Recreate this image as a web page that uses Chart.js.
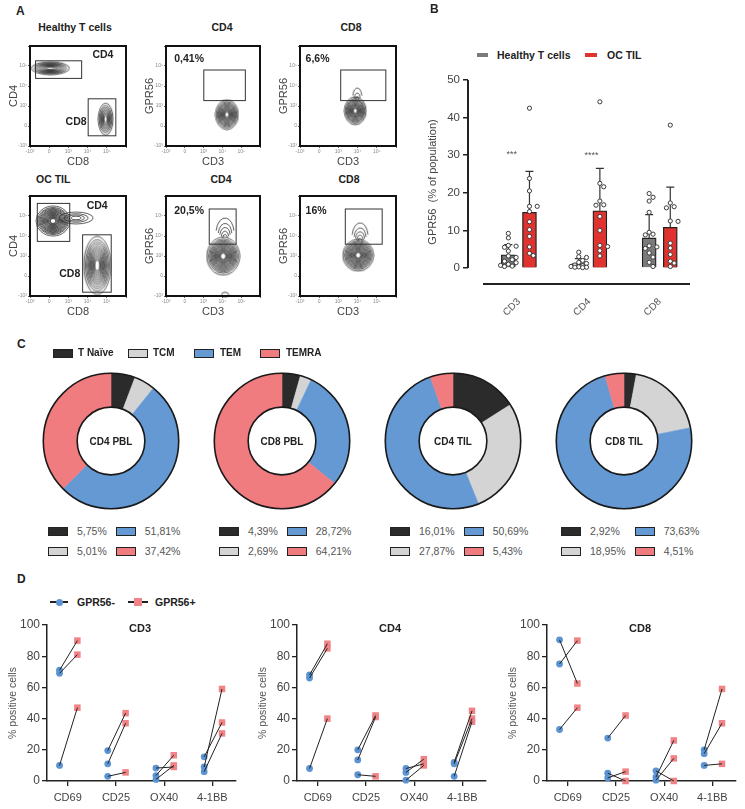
<!DOCTYPE html>
<html>
<head>
<meta charset="utf-8">
<script src="https://cdn.jsdelivr.net/npm/chart.js@4.4.1/dist/chart.umd.min.js"></script>
<style>
  body { margin:0; width:745px; height:809px; position:relative; overflow:hidden; background:#fff;
         font-family:'Liberation Sans', Arial, sans-serif; color:#222; }
  canvas { position:absolute; }
  .txt { position:absolute; white-space:nowrap; line-height:1; }
  .pct { position:absolute; display:grid; grid-template-columns:20px auto 20px auto; column-gap:9px; row-gap:8px;
         align-items:center; font-size:10.5px; color:#555; line-height:12px; }
  .pct i { display:block; box-sizing:border-box; border:1.5px solid #222; width:20px; height:9px; }
</style>
</head>
<body>
<script>
// ---------- data ----------
// A: flow plots, population centres in log decades (0-5) and gates [x1, y1, x2, y2]
var aHealthyMix = [{x:1.06, y:3.89}, {x:3.94, y:1.34}];
var aHealthyMixGates = [[0.29, 3.38, 2.69, 4.26], [3.03, 0.51, 4.47, 2.36]];
var aHealthyCD4 = [{x:3.24, y:1.57}];
var aHealthyCD4Gates = [[2.01, 2.27, 4.22, 3.80]];
var aHealthyCD8 = [{x:2.88, y:1.76}, {x:2.98, y:2.45}];
var aHealthyCD8Gates = [[2.12, 2.27, 4.47, 3.80]];
var aTilMix = [{x:1.2, y:3.75}, {x:2.4, y:3.9}, {x:3.5, y:1.53}];
var aTilMixGates = [[0.38, 2.73, 2.07, 4.63], [2.74, 0.19, 4.23, 3.06]];
var aTilCD4 = [{x:3.04, y:1.99}, {x:3.14, y:3.15}, {x:3.14, y:0.06}];
var aTilCD4Gates = [[2.3, 2.59, 3.73, 4.35]];
var aTilCD8 = [{x:3.03, y:2.04}, {x:3.13, y:2.96}];
var aTilCD8Gates = [[2.36, 2.59, 4.28, 4.35]];
var aGatePct = ['0,41%', '6,6%', '20,5%', '16%'];
var aTickLabels = ['-10³', '0', '10³', '10⁴', '10⁵', ''];

// B: GPR56 % of population
var bCats = ['CD3', 'CD4', 'CD8'];
var bHealthyMean = [3.5, 1.2, 8.0];
var bHealthySD = [2.7, 1.3, 6.2];
var bTilMean = [14.8, 15.2, 10.8];
var bTilSD = [10.9, 11.3, 10.7];
var bHealthyPts = [
  [9.2, 8.0, 6.0, 5.8, 5.5, 4.5, 3.2, 2.8, 2.2, 1.8, 1.4, 1.0, 0.7, 0.5, 0.4],
  [4.2, 3.0, 2.8, 2.0, 1.5, 1.2, 0.8, 0.6, 0.4, 0.3, 0.2, 0.2, 0.1],
  [19.8, 18.8, 17.8, 14.8, 9.5, 9.0, 8.8, 5.9, 5.6, 5.2, 4.0, 2.9, 1.5, 0.4]
];
var bTilPts = [
  [42.5, 23.8, 20.5, 16.4, 16.4, 15.0, 12.3, 10.2, 8.4, 5.6, 3.9, 3.3],
  [44.2, 22.5, 21.6, 17.8, 16.8, 16.7, 13.7, 10.0, 6.0, 5.7, 4.6, 3.2],
  [38.0, 17.3, 16.3, 16.0, 12.5, 12.4, 6.6, 5.3, 3.6, 1.8, 1.3, 0.4]
];
var bStars = ['***', '****'];

// C: memory subsets (%)
var cNames = ['CD4 PBL', 'CD8 PBL', 'CD4 TIL', 'CD8 TIL'];
var cSubsets = ['T Naïve', 'TCM', 'TEM', 'TEMRA'];
var cNaive = [5.75, 4.39, 16.01, 2.92];
var cTCM = [5.01, 2.69, 27.87, 18.95];
var cTEM = [51.81, 28.72, 50.69, 73.63];
var cTEMRA = [37.42, 64.21, 5.43, 4.51];

// D: % positive cells, GPR56- vs GPR56+ (paired, 3 donors per marker)
var dCats = ['CD69', 'CD25', 'OX40', '4-1BB'];
var dCD3Neg = [[71, 69, 10], [19.5, 11, 3], [8.3, 3.5, 1], [9, 15.5, 6]];
var dCD3Pos = [[90, 81, 47], [43.5, 37, 5.5], [9, 16.5, 10], [59, 37.5, 30.5]];
var dCD4Neg = [[68, 66, 8], [20, 13.5, 4], [8, 5.5, 0.5], [12, 11, 3]];
var dCD4Pos = [[88, 85, 40], [42, 41, 3], [11, 14, 10], [45, 40, 38]];
var dCD8Neg = [[90.5, 75, 33], [27.5, 5, 2], [6.5, 2.5, 0.5], [20, 17.5, 10]];
var dCD8Pos = [[62.5, 90, 47], [42, 0, 6], [0, 26, 14.5], [59, 37, 11]];

// ---------- helpers ----------
Chart.defaults.font.family = "'Liberation Sans', Arial, sans-serif";
Chart.defaults.color = '#444';
Chart.defaults.animation = false;
Chart.defaults.responsive = false;
Chart.defaults.plugins.legend.display = false;
Chart.defaults.plugins.tooltip.enabled = false;

var FONT = "'Liberation Sans', Arial, sans-serif";

function makeCanvas(left, top, w, h) {
  var c = document.createElement('canvas');
  c.width = w; c.height = h;
  c.style.left = left + 'px'; c.style.top = top + 'px';
  document.body.appendChild(c);
  return c;
}

function label(text, x, y, size, bold, align, color) {
  var d = document.createElement('div');
  d.className = 'txt';
  d.textContent = text;
  d.style.fontSize = size + 'px';
  if (bold) d.style.fontWeight = 'bold';
  d.style.color = color || '#222';
  d.style.left = x + 'px';
  d.style.top = y + 'px';
  d.style.transform = align == 'center' ? 'translate(-50%,-50%)' : 'translate(0,-50%)';
  document.body.appendChild(d);
}

function box(x, y, w, h, css) {
  var d = document.createElement('div');
  d.style.position = 'absolute';
  d.style.left = x + 'px'; d.style.top = y + 'px';
  d.style.width = w + 'px'; d.style.height = h + 'px';
  d.style.cssText += css || '';
  document.body.appendChild(d);
  return d;
}

// contour glyph used as point style
function contour(w, h, rings, upperOnly) {
  var c = document.createElement('canvas');
  c.width = w + 2; c.height = h + 2;
  var g = c.getContext('2d');
  g.strokeStyle = '#1a1a1a';
  g.lineWidth = 0.7;
  for (var k = 0; k < rings; k++) {
    var f = 1 - Math.pow(k / rings, 0.8) * 0.88;
    g.beginPath();
    if (upperOnly) g.ellipse(c.width / 2, c.height / 2 + (1 - f) * h * 0.25, f * w / 2, f * h / 2, 0, Math.PI * 1.05, Math.PI * 1.95);
    else g.ellipse(c.width / 2, c.height / 2, f * w / 2, f * h / 2, 0, 0, Math.PI * 2);
    g.stroke();
  }
  return c;
}

function flowPlugin(gates, notes) {
  return {
    id: 'flowFrame',
    afterDatasetsDraw: function(chart) {
      var ctx = chart.ctx, a = chart.chartArea, x = chart.scales.x, y = chart.scales.y;
      ctx.save();
      ctx.strokeStyle = '#333'; ctx.lineWidth = 1;
      gates.forEach(function(g) {
        var x1 = x.getPixelForValue(g[0]), x2 = x.getPixelForValue(g[2]);
        var y1 = y.getPixelForValue(g[1]), y2 = y.getPixelForValue(g[3]);
        ctx.strokeRect(x1, y2, x2 - x1, y1 - y2);
      });
      ctx.lineWidth = 2; ctx.strokeStyle = '#111';
      ctx.strokeRect(a.left, a.top, a.width, a.height);
      ctx.fillStyle = '#222';
      ctx.font = 'bold 10.5px ' + FONT;
      ctx.textBaseline = 'middle';
      notes.forEach(function(n) {
        ctx.textAlign = n.align || 'center';
        ctx.fillText(n.text, x.getPixelForValue(n.x), y.getPixelForValue(n.y));
      });
      ctx.restore();
    }
  };
}

function flowChart(b, xTitle, yTitle, pops, glyphs, gates, notes) {
  var padL = 3, axisW = 27, axisH = 27;
  var left = b[0] - padL - axisW, top = b[1] - 3;
  var cv = makeCanvas(left, top, b[2] - left + 3, b[3] + axisH - top);
  var tickCfg = { stepSize: 1, font: { size: 5 }, color: '#888', padding: 1, maxRotation: 0, autoSkip: false,
                  callback: function(v) { return aTickLabels[v]; } };
  var gridCfg = { drawOnChartArea: false, tickLength: 2, color: '#666' };
  new Chart(cv, {
    type: 'scatter',
    data: { datasets: [{ data: pops, pointRadius: 10, clip: false,
                         pointStyle: function(ctx) { return glyphs[ctx.dataIndex]; } }] },
    options: {
      layout: { padding: { left: padL, top: 3, right: 3, bottom: 0 } },
      scales: {
        x: { min: 0, max: 5, ticks: tickCfg, grid: gridCfg, border: { display: false },
             title: { display: true, text: xTitle, font: { size: 11 }, color: '#444', padding: { top: 0, bottom: 4 } },
             afterFit: function(s) { s.height = axisH; } },
        y: { min: 0, max: 5, ticks: tickCfg, grid: gridCfg, border: { display: false },
             title: { display: true, text: yTitle, font: { size: 11 }, color: '#444' },
             afterFit: function(s) { s.width = axisW; } }
      }
    },
    plugins: [flowPlugin(gates, notes)]
  });
}

// ---------- panel A ----------
label('A', 16, 11, 12, true);
label('Healthy T cells', 75, 27, 10.5, true, 'center');
label('CD4', 222, 27, 10.5, true, 'center');
label('CD8', 351, 27, 10.5, true, 'center');
label('OC TIL', 36, 179, 10.5, true);
label('CD4', 221, 179, 10.5, true, 'center');
label('CD8', 349, 179, 10.5, true, 'center');

flowChart([30, 38, 134, 146], 'CD8', 'CD4', aHealthyMix,
  [contour(38, 13, 10), contour(15, 32, 9)], aHealthyMixGates,
  [{text:'CD4', x:3.8, y:4.54}, {text:'CD8', x:2.4, y:1.2}]);
flowChart([166, 38, 268, 146], 'CD3', 'GPR56', aHealthyCD4,
  [contour(23, 30, 13)], aHealthyCD4Gates,
  [{text:aGatePct[0], x:0.44, y:4.35, align:'left'}]);
flowChart([300, 38, 404, 146], 'CD3', 'GPR56', aHealthyCD8,
  [contour(22, 28, 13), contour(9, 18, 3, true)], aHealthyCD8Gates,
  [{text:aGatePct[1], x:0.29, y:4.35, align:'left'}]);
flowChart([30, 188, 134, 296], 'CD8', 'CD4', aTilMix,
  [contour(34, 30, 17), contour(34, 12, 4), contour(27, 58, 13)], aTilMixGates,
  [{text:'CD4', x:3.5, y:4.49}, {text:'CD8', x:2.07, y:1.11}]);
flowChart([166, 188, 268, 296], 'CD3', 'GPR56', aTilCD4,
  [contour(33, 38, 16), contour(18, 30, 5, true), contour(7, 5, 1)], aTilCD4Gates,
  [{text:aGatePct[2], x:0.44, y:4.26, align:'left'}]);
flowChart([300, 188, 404, 296], 'CD3', 'GPR56', aTilCD8,
  [contour(31, 32, 15), contour(16, 28, 5, true)], aTilCD8Gates,
  [{text:aGatePct[3], x:0.29, y:4.26, align:'left'}]);

// ---------- panel B ----------
label('B', 430, 9, 12, true);
box(477, 53, 11, 4, 'background:#7b7b7b;');
label('Healthy T cells', 497, 55, 10.5, true);
box(585, 53, 12, 4, 'background:#e0322e;');
label('OC TIL', 607, 55, 10.5, true);

// simple beeswarm: keep points inside the bar width, allow overlap when crowded
var PXX = 70.5, PXY = 3.76;
function swarm(values, cx) {
  var placed = [];
  values.slice().sort(function(a, b) { return b - a; }).forEach(function(v) {
    var best = 0, bestD = -1;
    for (var k = 0; k < 5; k++) {
      var off = (k % 2 ? 1 : -1) * Math.ceil(k / 2) * 0.055;
      var d = placed.reduce(function(m, p) {
        return Math.min(m, Math.hypot((p.x - cx - off) * PXX, (p.y - v) * PXY));
      }, 99);
      if (d > 4.2) { best = off; bestD = d; break; }
      if (d > bestD) { bestD = d; best = off; }
    }
    placed.push({x: cx + best, y: v});
  });
  return placed;
}
var bDots = [];
bCats.forEach(function(c, i) {
  bDots = bDots.concat(swarm(bHealthyPts[i], i - 0.15), swarm(bTilPts[i], i + 0.15));
});

var bPlugin = {
  id: 'bExtras',
  afterDatasetDraw: function(chart, args) {
    var sds = [bHealthySD, bTilSD][args.index], means = [bHealthyMean, bTilMean][args.index];
    if (!sds) return;
    var ctx = chart.ctx, y = chart.scales.y;
    ctx.save();
    ctx.strokeStyle = '#333'; ctx.lineWidth = 1.2;
    args.meta.data.forEach(function(bar, i) {
      var top = y.getPixelForValue(means[i] + sds[i]);
      ctx.beginPath();
      ctx.moveTo(bar.x, y.getPixelForValue(means[i]));
      ctx.lineTo(bar.x, top);
      ctx.moveTo(bar.x - 4, top);
      ctx.lineTo(bar.x + 4, top);
      ctx.stroke();
    });
    ctx.restore();
  },
  afterDraw: function(chart) {
    var ctx = chart.ctx, x = chart.scales.x, y = chart.scales.y, a = chart.chartArea;
    ctx.save();
    ctx.strokeStyle = '#222';
    ctx.lineWidth = 2;
    ctx.beginPath();
    ctx.moveTo(a.left, y.getPixelForValue(0));
    ctx.lineTo(a.left, y.getPixelForValue(50));
    ctx.stroke();
    ctx.beginPath();
    ctx.moveTo(x.getPixelForValue(-0.51), a.bottom);
    ctx.lineTo(x.getPixelForValue(2.43), a.bottom);
    ctx.stroke();
    ctx.fillStyle = '#555';
    ctx.font = '9px ' + FONT;
    ctx.textAlign = 'center'; ctx.textBaseline = 'middle';
    ctx.fillText(bStars[0], x.getPixelForValue(-0.1), y.getPixelForValue(30.3));
    ctx.fillText(bStars[1], x.getPixelForValue(1.03), y.getPixelForValue(30.0));
    ctx.restore();
  }
};

new Chart(makeCanvas(420, 70, 300, 250), {
  type: 'bar',
  data: {
    datasets: [
      { data: bCats.map(function(c, i) { return {x: i - 0.15, y: bHealthyMean[i]}; }),
        backgroundColor: '#7b7b7b', borderColor: '#222', borderWidth: 1.3, barThickness: 14, grouped: false, order: 3 },
      { data: bCats.map(function(c, i) { return {x: i + 0.15, y: bTilMean[i]}; }),
        backgroundColor: '#e0322e', borderColor: '#222', borderWidth: 1.3, barThickness: 14, grouped: false, order: 2 },
      { type: 'scatter', data: bDots, pointRadius: 2.1, pointBackgroundColor: '#fff',
        pointBorderColor: '#3a3a3a', pointBorderWidth: 1, order: 1, clip: false }
    ]
  },
  options: {
    layout: { padding: { left: 2, top: 10, right: 30, bottom: 0 } },
    scales: {
      x: { type: 'linear', min: -0.723, max: 2.43, offset: false,
           afterBuildTicks: function(s) { s.ticks = bCats.map(function(c, i) { return {value: i}; }); },
           ticks: { callback: function(v) { return bCats[v]; }, minRotation: 45, maxRotation: 45, autoSkip: false,
                    font: { size: 10 }, color: '#555', padding: 4 },
           grid: { display: false }, border: { display: false },
           afterFit: function(s) { s.height = 36; } },
      y: { min: -4.26, max: 50,
           afterBuildTicks: function(s) { s.ticks = [0, 10, 20, 30, 40, 50].map(function(v) { return {value: v}; }); },
           ticks: { font: { size: 11.5 }, color: '#444', padding: 3 },
           grid: { drawOnChartArea: false, tickLength: 5, color: '#222', lineWidth: 1.5 },
           border: { display: false },
           title: { display: true, text: 'GPR56  (% of population)', font: { size: 11 }, color: '#444' },
           afterFit: function(s) { s.width = 46; } }
    }
  },
  plugins: [bPlugin]
});

// ---------- panel C ----------
var cColors = ['#2b2b2b', '#d4d4d4', '#6499d4', '#f07c80'];
label('C', 17, 344, 12, true);
[53, 128, 194, 260].forEach(function(x, i) {
  var s = box(x, 349, 20, 9, 'box-sizing:border-box;border:1.5px solid #222;');
  s.style.background = cColors[i];
});
[78, 153, 220, 286].forEach(function(x, i) { label(cSubsets[i], x, 353, 10, true); });

function ringPlugin(name) {
  return {
    id: 'ring',
    afterDraw: function(chart) {
      var arc = chart.getDatasetMeta(0).data[0], ctx = chart.ctx;
      ctx.save();
      ctx.strokeStyle = '#1a1a1a'; ctx.lineWidth = 1.6;
      [arc.outerRadius, arc.innerRadius].forEach(function(r) {
        ctx.beginPath(); ctx.arc(arc.x, arc.y, r, 0, Math.PI * 2); ctx.stroke();
      });
      ctx.fillStyle = '#222';
      ctx.font = 'bold 10px ' + FONT;
      ctx.textAlign = 'center'; ctx.textBaseline = 'middle';
      ctx.fillText(name, arc.x, arc.y + 1);
      ctx.restore();
    }
  };
}

function fmt(v) { return v.toFixed(2).replace('.', ',') + '%'; }

cNames.forEach(function(name, k) {
  var cx = 111 + 171 * k, cy = 441;
  new Chart(makeCanvas(cx - 70, cy - 70, 140, 140), {
    type: 'doughnut',
    data: { labels: cSubsets,
            datasets: [{ data: [cNaive[k], cTCM[k], cTEM[k], cTEMRA[k]],
                         backgroundColor: cColors, borderColor: cColors, borderWidth: 0.6 }] },
    options: { cutout: '50%', layout: { padding: 2 } },
    plugins: [ringPlugin(name)]
  });
  var g = document.createElement('div');
  g.className = 'pct';
  g.style.left = (cx - 63) + 'px';
  g.style.top = '525px';
  var cells = [[0, cNaive[k]], [2, cTEM[k]], [1, cTCM[k]], [3, cTEMRA[k]]];
  cells.forEach(function(cell) {
    var sq = document.createElement('i');
    sq.style.background = cColors[cell[0]];
    var t = document.createElement('span');
    t.textContent = fmt(cell[1]);
    g.appendChild(sq); g.appendChild(t);
  });
  document.body.appendChild(g);
});

// ---------- panel D ----------
label('D', 17, 579, 12, true);
box(50, 601, 18, 1.5, 'background:#222;');
box(55.5, 598.5, 7, 7, 'background:#5b93d3;border-radius:50%;');
label('GPR56-', 77, 602, 10.5, true);
box(128, 601, 20, 1.5, 'background:#222;');
box(134, 598, 8, 8, 'background:#f08386;');
label('GPR56+', 155, 602, 10.5, true);

function dChart(left, title, neg, pos) {
  var datasets = [];
  dCats.forEach(function(c, i) {
    neg[i].forEach(function(v, j) {
      datasets.push({ data: [{x: i - 0.17, y: v}, {x: i + 0.2, y: pos[i][j]}], showLine: true,
                      borderColor: '#222', borderWidth: 1, pointRadius: 0, order: 0, clip: false });
    });
  });
  var negPts = [], posPts = [];
  dCats.forEach(function(c, i) {
    neg[i].forEach(function(v) { negPts.push({x: i - 0.17, y: v}); });
    pos[i].forEach(function(v) { posPts.push({x: i + 0.2, y: v}); });
  });
  datasets.push({ data: posPts, pointStyle: 'rect', pointRadius: 4.6, backgroundColor: '#f08386',
                  borderColor: '#f08386', borderWidth: 0, order: 1, clip: false });
  datasets.push({ data: negPts, pointStyle: 'circle', pointRadius: 3.4, backgroundColor: '#5b93d3',
                  borderColor: '#5b93d3', borderWidth: 0, order: 2, clip: false });
  new Chart(makeCanvas(left, 615, 245, 194), {
    type: 'scatter',
    data: { datasets: datasets },
    options: {
      layout: { padding: { left: 3, top: 10, right: 9, bottom: 0 } },
      scales: {
        x: { min: -0.43, max: 3.49,
             afterBuildTicks: function(s) { s.ticks = dCats.map(function(c, i) { return {value: i}; }); },
             ticks: { callback: function(v) { return dCats[v]; }, font: { size: 11 }, color: '#444',
                      padding: 5, maxRotation: 0, autoSkip: false },
             grid: { drawOnChartArea: false, tickLength: 5, color: '#222', lineWidth: 1.3 },
             border: { color: '#222', width: 1.5 },
             afterFit: function(s) { s.height = 28; } },
        y: { min: 0, max: 100, ticks: { stepSize: 20, font: { size: 12 }, color: '#444', padding: 2 },
             grid: { drawOnChartArea: false, tickLength: 5, color: '#222', lineWidth: 1.3 },
             border: { color: '#222', width: 1.5 },
             title: { display: true, text: '% positive cells', font: { size: 10.5 }, color: '#555' },
             afterFit: function(s) { s.width = 44; } }
      }
    },
    plugins: [{
      id: 'dTitle',
      afterDraw: function(chart) {
        var ctx = chart.ctx;
        ctx.save();
        ctx.fillStyle = '#222';
        ctx.font = 'bold 11px ' + FONT;
        ctx.textAlign = 'center'; ctx.textBaseline = 'middle';
        ctx.fillText(title, chart.scales.x.getPixelForValue(1.5), chart.scales.y.getPixelForValue(97.5));
        ctx.restore();
      }
    }]
  });
}
dChart(0, 'CD3', dCD3Neg, dCD3Pos);
dChart(250, 'CD4', dCD4Neg, dCD4Pos);
dChart(500, 'CD8', dCD8Neg, dCD8Pos);
</script>
</body>
</html>
